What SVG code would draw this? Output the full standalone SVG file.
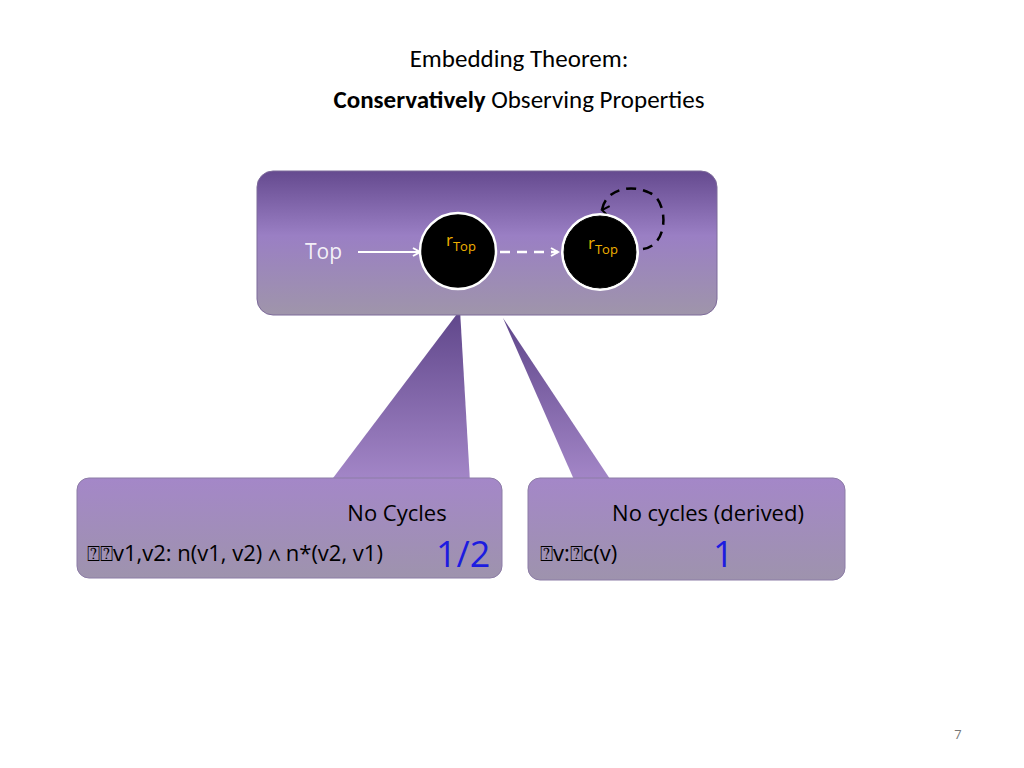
<svg xmlns="http://www.w3.org/2000/svg" width="1024" height="768" viewBox="0 0 1024 768">
<defs>
<linearGradient id="gTop" x1="0" y1="0" x2="0" y2="1"><stop offset="0" stop-color="#654a8f"/><stop offset="0.45" stop-color="#9a7fc4"/><stop offset="1" stop-color="#9f95aa"/></linearGradient>
<linearGradient id="gBot" x1="0" y1="0" x2="0" y2="1"><stop offset="0" stop-color="#a487c8"/><stop offset="1" stop-color="#9e93ad"/></linearGradient>
<linearGradient id="gPtr" x1="0" y1="0" x2="0" y2="1"><stop offset="0" stop-color="#5f468a"/><stop offset="1" stop-color="#a487c8"/></linearGradient>
<marker id="aw" markerWidth="10" markerHeight="10" refX="8" refY="5" orient="auto" markerUnits="userSpaceOnUse"><path d="M1,1 L8,5 L1,9" fill="none" stroke="#fff" stroke-width="2"/></marker>
<marker id="ab" markerWidth="12" markerHeight="12" refX="6" refY="10" orient="auto" markerUnits="userSpaceOnUse"><path d="M1,3 L6,10 L11,3" fill="none" stroke="#000" stroke-width="2"/></marker>
<style>
text{font-family:"Open Sans","Liberation Sans",sans-serif}
.t{font-family:Calibri,"Open Sans","Liberation Sans",sans-serif;font-size:25px;fill:#000}
.lbl{font-size:22px;fill:#000}
.n{font-size:36px;fill:#1c1ce0}
.ry{font-size:17px;fill:#f0b000}
</style>
</defs>
<g id="title">
<text x="519" y="67" text-anchor="middle" class="t">Embedding Theorem:</text>
<text x="519" y="108" text-anchor="middle" class="t"><tspan font-weight="bold">Conservatively</tspan> Observing Properties</text>
</g>
<g id="callouts">
<path d="M330,482 L460,310 L470,482 Z" fill="url(#gPtr)"/>
<path d="M575,482 L503,318 L612,482 Z" fill="url(#gPtr)"/>
<rect id="topbox" x="257" y="171" width="460" height="144" rx="16" fill="url(#gTop)" stroke="#7d6a9a" stroke-width="1"/>
<g id="left"><rect x="77" y="478" width="425" height="100" rx="12" fill="url(#gBot)" stroke="#8c7ca6"/>
<text x="397" y="521" text-anchor="middle" class="lbl">No Cycles</text>
<text x="87" y="561" class="lbl">⍰⍰v1,v2: n(v1, v2) ∧ n*(v2, v1)</text>
<text x="436" y="567" class="n">1/2</text></g>
<g id="right"><rect x="528" y="478" width="317" height="102" rx="12" fill="url(#gBot)" stroke="#8c7ca6"/>
<text x="708" y="521" text-anchor="middle" class="lbl">No cycles (derived)</text>
<text x="540" y="561" class="lbl">⍰v:⍰c(v)</text>
<text x="713" y="567" class="n">1</text></g>
</g>
<g id="connectors">
<line x1="358" y1="252" x2="420" y2="252" stroke="#fff" stroke-width="2" marker-end="url(#aw)"/>
<line x1="500" y1="252" x2="558" y2="252" stroke="#fff" stroke-width="2.5" stroke-dasharray="10,7" marker-end="url(#aw)"/>
<path d="M643,249 C670,245 668,200 650,193 C630,183 605,190 602,210" fill="none" stroke="#000" stroke-width="2.5" stroke-dasharray="10,7" marker-end="url(#ab)"/>
</g>
<g id="top-label"><text x="305" y="259" font-size="21" fill="#fff" fill-opacity="0.9">Top</text></g>
<g id="n1"><circle cx="458" cy="251" r="38" fill="#000" stroke="#fff" stroke-width="2.5"/>
<text x="446" y="246" class="ry">r<tspan font-size="13" dy="5">Top</tspan></text></g>
<g id="n2"><circle cx="600" cy="252" r="39" fill="#fff"/><circle cx="600" cy="252" r="36" fill="#000" stroke="#000"/><circle cx="600" cy="252" r="37.5" fill="none" stroke="#fff" stroke-width="1.2"/>
<text x="588" y="249" class="ry">r<tspan font-size="13" dy="5">Top</tspan></text></g>
<text x="958" y="739" text-anchor="middle" font-size="13" fill="#777">7</text>
</svg>
